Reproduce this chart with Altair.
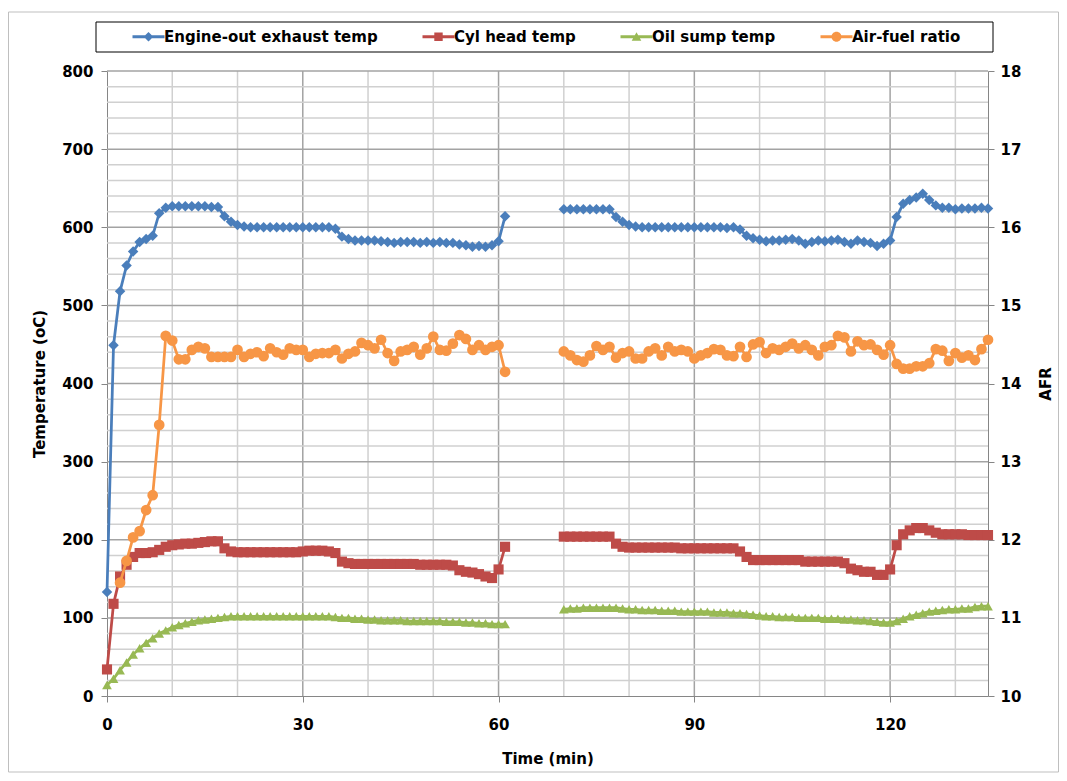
import altair as alt
import pandas as pd

series_names = ["Engine-out exhaust temp", "Cyl head temp", "Oil sump temp", "Air-fuel ratio"]
series_colors = ["#4A7EBB", "#BE4B48", "#98B954", "#F79646"]

time_run1 = list(range(0, 62))
time_run2 = list(range(70, 136))
afr_time_run1 = list(range(2, 62))

exhaust_run1 = [133, 449, 518, 551, 569, 581, 585, 589, 618, 625, 627, 627, 627, 627, 627, 627,
                626, 626, 614, 607, 603, 601,
                600, 600, 600, 600, 600, 600, 600, 600, 600, 600, 600, 600, 600,
                598, 588, 585, 583, 583, 583, 583, 582, 581, 580, 581, 581, 581, 580, 581, 580,
                581, 580, 580, 578, 577, 575, 576, 575, 577, 582, 614]
exhaust_run2 = [623, 623, 623, 623, 623, 623, 623, 623,
                613, 607, 603, 601,
                600, 600, 600, 600, 600, 600, 600, 600, 600, 600, 600, 600, 600, 599, 600,
                597, 589, 586, 584, 582, 583, 583, 584, 585, 583, 579, 581, 583, 582, 583, 584,
                581, 579, 583, 581, 580, 576, 579, 583, 613, 630, 635, 638, 643, 635, 628, 625,
                625, 623, 624, 624, 624, 625, 624]

cylhead_run1 = [34, 118, 153, 168, 178, 183, 183, 184, 187, 191, 193, 194, 195, 195, 196, 197,
                198, 198, 189, 185,
                184, 184, 184, 184, 184, 184, 184, 184, 184, 184,
                185, 186, 186, 186, 185, 183, 172, 170,
                169, 169, 169, 169, 169, 169, 169, 169, 169, 169,
                168, 168, 168, 168, 168,
                167, 161, 159, 158, 156, 153, 151, 162, 191]
cylhead_run2 = [204, 204, 204, 204, 204, 204, 204, 204, 195, 191,
                190, 190, 190, 190, 190, 190, 190, 190,
                189, 189, 189, 189, 189, 189, 189, 189, 189,
                185, 178,
                174, 174, 174, 174, 174, 174, 174, 174,
                172, 172, 172, 172, 172, 172,
                170, 163, 161, 159, 159, 155, 155, 162, 193, 207, 212, 215, 215, 212, 209, 207,
                207, 207, 207, 206, 206, 206, 206]

oilsump_run1 = [14, 22, 33, 43, 53, 61, 68, 74, 80, 84, 88, 91, 93, 95, 97, 98, 99, 100, 101, 102,
                102, 102, 102, 102, 102, 102, 102, 102, 102, 102, 102, 102, 102, 102, 102,
                101, 100, 100, 99, 99, 98, 98, 97, 97, 97, 97, 96, 96, 96, 96, 96, 96, 95, 95, 95,
                94, 94, 93, 93, 92, 92, 92]
oilsump_run2 = [111, 112, 112, 113, 113, 113, 113, 113, 113, 112,
                111, 111, 110, 110, 110, 109, 109, 109, 108, 108,
                108, 108, 108, 107, 107, 107, 106, 106, 105, 104,
                103, 102, 102, 101, 101, 101, 100, 100, 100, 100,
                99, 99, 99, 98, 98, 97, 97, 96, 95, 94,
                94, 96, 99, 102, 104, 106, 108, 109, 110, 111,
                111, 112, 112, 114, 115, 115]

afr_run1 = [11.45, 11.73, 12.03, 12.11, 12.38, 12.57, 13.47, 14.61, 14.55, 14.31,
            14.31, 14.43, 14.47, 14.45, 14.34, 14.34, 14.34, 14.34, 14.43, 14.34,
            14.38, 14.40, 14.35, 14.45, 14.40, 14.37, 14.45, 14.43, 14.43, 14.34,
            14.38, 14.39, 14.39, 14.43, 14.32, 14.38, 14.41, 14.52, 14.49, 14.45,
            14.56, 14.39, 14.29, 14.41, 14.43, 14.47, 14.37, 14.45, 14.60, 14.43,
            14.42, 14.51, 14.62, 14.57, 14.43, 14.49, 14.43, 14.47, 14.49, 14.15]
afr_run2 = [14.41, 14.36, 14.30, 14.28, 14.36, 14.48, 14.43, 14.47, 14.33, 14.39,
            14.41, 14.32, 14.32, 14.41, 14.45, 14.36, 14.47, 14.41, 14.43, 14.41,
            14.32, 14.36, 14.39, 14.44, 14.43, 14.36, 14.35, 14.47, 14.34, 14.50,
            14.53, 14.39, 14.45, 14.43, 14.47, 14.51, 14.45, 14.49, 14.43, 14.36,
            14.47, 14.49, 14.61, 14.59, 14.41, 14.54, 14.49, 14.50, 14.43, 14.37,
            14.49, 14.25, 14.19, 14.19, 14.22, 14.22, 14.26, 14.44, 14.42, 14.29,
            14.39, 14.33, 14.36, 14.30, 14.44, 14.56]

x_ticks = [0, 30, 60, 90, 120]
x_grid_minor = [10, 20, 40, 50, 70, 80, 100, 110, 130]
temp_ticks = [0, 100, 200, 300, 400, 500, 600, 700, 800]
temp_grid_minor = [20, 40, 60, 80, 120, 140, 160, 180, 220, 240, 260, 280, 320, 340, 360, 380,
                   420, 440, 460, 480, 520, 540, 560, 580, 620, 640, 660, 680, 720, 740, 760, 780]
afr_ticks = [10, 11, 12, 13, 14, 15, 16, 17, 18]

# ---- tables ----
rows = []
for name, run, times, vals in [
    (series_names[0], 1, time_run1, exhaust_run1), (series_names[0], 2, time_run2, exhaust_run2),
    (series_names[1], 1, time_run1, cylhead_run1), (series_names[1], 2, time_run2, cylhead_run2),
    (series_names[2], 1, time_run1, oilsump_run1), (series_names[2], 2, time_run2, oilsump_run2),
]:
    for t, v in zip(times, vals):
        rows.append({"time": t, "value": v, "series": name, "run": run})
temps = pd.DataFrame(rows)

arows = []
for run, times, vals in [(1, afr_time_run1, afr_run1), (2, time_run2, afr_run2)]:
    for t, v in zip(times, vals):
        arows.append({"time": t, "afr": v, "series": series_names[3], "run": run})
afr = pd.DataFrame(arows)

FONT = "DejaVu Sans"
FS = 15
AXIS_GRAY = "#868686"

xscale = alt.Scale(domain=[0, 135], nice=False, zero=False)
tscale = alt.Scale(domain=[0, 800], nice=False)
ascale = alt.Scale(domain=[10, 18], nice=False, zero=False)

x_axis = alt.Axis(values=x_ticks, grid=False, title="Time (min)", tickSize=6, tickColor=AXIS_GRAY,
                  domainColor=AXIS_GRAY, labelFont=FONT, labelFontSize=FS, labelFontWeight="bold",
                  labelColor="black", labelPadding=15, titleFont=FONT, titleFontSize=FS,
                  titleFontWeight="bold", titleColor="black", titlePadding=19, labelFlush=False)
t_axis = alt.Axis(values=temp_ticks, grid=False, title="Temperature (oC)", orient="left", tickSize=6,
                  tickColor=AXIS_GRAY, domainColor=AXIS_GRAY, labelFont=FONT, labelFontSize=FS,
                  labelFontWeight="bold", labelColor="black", labelPadding=8, titleFont=FONT,
                  titleFontSize=FS, titleFontWeight="bold", titleColor="black", titlePadding=14)
a_axis = alt.Axis(values=afr_ticks, grid=False, title="AFR", orient="right", tickSize=6,
                  tickColor=AXIS_GRAY, domainColor=AXIS_GRAY, labelFont=FONT, labelFontSize=FS,
                  labelFontWeight="bold", labelColor="black", labelPadding=6, titleFont=FONT,
                  titleFontSize=FS, titleFontWeight="bold", titleColor="black", titlePadding=33,
                  titleAngle=270)

X = alt.X("time:Q", scale=xscale, axis=x_axis)

# gridlines
vgrid_minor = alt.Chart(pd.DataFrame({"time": x_grid_minor})).mark_rule(
    color="#d0d0d0", strokeWidth=1.5).encode(x=X)
vgrid_major = alt.Chart(pd.DataFrame({"time": x_ticks[1:]})).mark_rule(
    color="#a3a3a3", strokeWidth=1.5).encode(x=X)
hgrid_minor = alt.Chart(pd.DataFrame({"value": temp_grid_minor})).mark_rule(
    color="#d0d0d0", strokeWidth=1.5).encode(y=alt.Y("value:Q", scale=tscale, axis=t_axis))
hgrid_major = alt.Chart(pd.DataFrame({"value": temp_ticks[1:]})).mark_rule(
    color="#a3a3a3", strokeWidth=1.5).encode(y=alt.Y("value:Q", scale=tscale, axis=t_axis))

tcolor = alt.Color("series:N", scale=alt.Scale(domain=series_names[:3], range=series_colors[:3]),
                   legend=None)
tY = alt.Y("value:Q", scale=tscale, axis=t_axis)

temp_lines = alt.Chart(temps).mark_line(strokeWidth=2.75).encode(
    x=X, y=tY, color=tcolor, detail="run:N", order="time:Q")
temp_points = alt.Chart(temps).mark_point(filled=True, opacity=1).encode(
    x=X, y=tY, color=tcolor,
    shape=alt.Shape("series:N", scale=alt.Scale(domain=series_names[:3],
                                                range=["diamond", "square", "triangle-up"]),
                    legend=None),
    size=alt.Size("series:N", scale=alt.Scale(domain=series_names[:3], range=[110, 95, 90]),
                  legend=None))

temp_group = alt.layer(vgrid_minor, vgrid_major, hgrid_minor, hgrid_major, temp_lines, temp_points)

aY = alt.Y("afr:Q", scale=ascale, axis=a_axis)
afr_line = alt.Chart(afr).mark_line(strokeWidth=2.75, color=series_colors[3]).encode(
    x=X, y=aY, detail="run:N", order="time:Q")
afr_points = alt.Chart(afr).mark_point(filled=True, opacity=1, size=115, shape="circle",
                                       color=series_colors[3]).encode(x=X, y=aY)
afr_group = alt.layer(afr_line, afr_points)

# legend (symbols = line segment + marker); custom paths live in a [-1, 1] box scaled by sqrt(size)/2
bar = "M-3.2,-0.28H3.2V0.28H-3.2Z "
legend_paths = [
    bar + "M0,-0.96L0.96,0L0,0.96L-0.96,0Z",
    bar + "M-0.84,-0.84H0.84V0.84H-0.84Z",
    bar + "M0,-0.9L0.96,0.8L-0.96,0.8Z",
    bar + "M1,0A1,1,0,1,1,-1,0A1,1,0,1,1,1,0Z",
]
leg = alt.Legend(title=None, orient="none", legendX=34, legendY=-42, direction="horizontal",
                 symbolSize=100, symbolStrokeWidth=0, labelFont=FONT, labelFontSize=FS,
                 labelFontWeight="bold", labelColor="black", labelOffset=8, columnPadding=44,
                 labelLimit=400, padding=0)
legend_layer = alt.Chart(pd.DataFrame({"series": series_names})).mark_point(
    filled=True, opacity=1, size=100).encode(
    x=alt.value(-5000), y=alt.value(-5000),
    color=alt.Color("series:N", scale=alt.Scale(domain=series_names, range=series_colors), legend=leg),
    shape=alt.Shape("series:N", scale=alt.Scale(domain=series_names, range=legend_paths), legend=leg),
)

legend_box = alt.Chart(pd.DataFrame({"k": [0]})).mark_rect(
    fill="white", stroke="black", strokeWidth=1).encode(
    x=alt.value(-11), x2=alt.value(886), y=alt.value(-49), y2=alt.value(-19))
outer_box = alt.Chart(pd.DataFrame({"k": [0]})).mark_rect(
    fill=None, stroke="#bfbfbf", strokeWidth=1).encode(
    x=alt.value(-98.5), x2=alt.value(951.5), y=alt.value(-59), y2=alt.value(701))

chart = alt.layer(outer_box, legend_box, temp_group, afr_group, legend_layer).resolve_scale(
    y="independent", color="independent", shape="independent"
).properties(
    width=881, height=625,
    padding={"left": 99, "top": 63, "right": 71, "bottom": 77},
    autosize=alt.AutoSizeParams(type="none"),
    background="white",
).configure_view(stroke=None)

chart.save("out.html", embed_options={"renderer": "svg", "actions": False})
